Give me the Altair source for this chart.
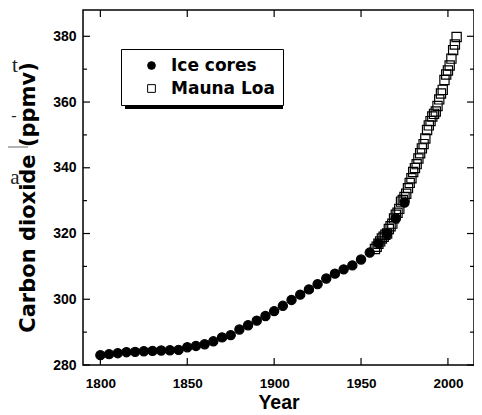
import altair as alt
import pandas as pd

# ---- data ----
ice_years = [1800, 1805, 1810, 1815, 1820, 1825, 1830, 1835, 1840, 1845,
             1850, 1855, 1860, 1865, 1870, 1875, 1880, 1885, 1890, 1895,
             1900, 1905, 1910, 1915, 1920, 1925, 1930, 1935, 1940, 1945,
             1950, 1955, 1960, 1965, 1970, 1975]
ice_co2 = [283.0, 283.3, 283.6, 283.9, 284.0, 284.2, 284.3, 284.4, 284.5, 284.6,
           285.4, 285.8, 286.3, 287.2, 288.4, 289.1, 290.8, 292.1, 293.5, 294.9,
           296.4, 298.0, 299.8, 301.4, 303.0, 304.6, 306.3, 307.8, 309.1, 310.3,
           312.1, 314.2, 317.0, 320.0, 324.6, 329.4]

ml_years = [1958, 1959, 1960, 1961, 1962, 1963, 1964, 1965, 1966, 1967,
            1968, 1969, 1970, 1971, 1972, 1973, 1974, 1975, 1976, 1977,
            1978, 1979, 1980, 1981, 1982, 1983, 1984, 1985, 1986, 1987,
            1988, 1989, 1990, 1991, 1992, 1993, 1994, 1995, 1996, 1997,
            1998, 1999, 2000, 2001, 2002, 2003, 2004, 2005]
ml_co2 = [315.3, 316.0, 316.9, 317.6, 318.5, 319.0, 319.6, 320.0, 321.4, 322.2,
          323.0, 324.6, 325.7, 326.3, 327.5, 329.7, 330.2, 331.1, 332.1, 333.8,
          335.4, 336.8, 338.7, 339.9, 341.1, 342.8, 344.4, 345.9, 347.2, 348.9,
          351.5, 352.9, 354.2, 355.6, 356.4, 357.1, 358.8, 360.8, 362.6, 363.7,
          366.7, 368.4, 369.6, 371.1, 373.2, 375.8, 377.5, 379.8]

series = ["Ice cores", "Mauna Loa"]
x_ticks = [1800, 1850, 1900, 1950, 2000]
y_major = [280, 300, 320, 340, 360, 380]
y_minor = [290, 310, 330, 350, 370]

# ---- layout ----
W, H = 391, 355
x_scale = alt.Scale(domain=[1790, 2015], nice=False, zero=False)
y_scale = alt.Scale(domain=[280, 388], nice=False, zero=False)

x_axis = alt.Axis(
    values=x_ticks, format="d", ticks=False, tickSize=0, domain=False, grid=False,
    labelFont="Liberation Sans", labelFontWeight="bold", labelFontSize=13.5,
    labelColor="black", labelPadding=11,
    title="Year", titleFont="Liberation Sans", titleFontWeight="bold",
    titleFontSize=19.5, titleColor="black", titleY=43, titleBaseline="alphabetic")
y_axis = alt.Axis(
    values=y_major, format="d", ticks=False, tickSize=0, domain=False, grid=False,
    labelFont="Liberation Sans", labelFontWeight="bold", labelFontSize=14,
    labelColor="black", labelPadding=7,
    title="Carbon dioxide (ppmv)", titleFont="DejaVu Sans", titleFontWeight="bold",
    titleFontSize=21, titleColor="black", titleAngle=270, titleAlign="center",
    titleBaseline="middle", titleX=-55, titleY=187)

xenc = alt.X("Year:Q", scale=x_scale, axis=x_axis)
yenc = alt.Y("CO2:Q", scale=y_scale, axis=y_axis)

df = pd.DataFrame({
    "Year": ice_years + ml_years,
    "CO2": ice_co2 + ml_co2,
    "Series": [series[0]] * len(ice_years) + [series[1]] * len(ml_years),
})

points = alt.Chart(df).mark_point(
    filled=True, size=85, strokeWidth=1.2, opacity=1
).encode(
    x=xenc,
    y=yenc,
    shape=alt.Shape("Series:N", scale=alt.Scale(domain=series, range=["circle", "square"]),
                    legend=alt.Legend(title=None)),
    fill=alt.Fill("Series:N", scale=alt.Scale(domain=series, range=["black", "transparent"]),
                  legend=alt.Legend(title=None)),
    stroke=alt.Stroke("Series:N", scale=alt.Scale(domain=series, range=["black", "black"]),
                      legend=alt.Legend(title=None)),
)

xt = pd.DataFrame({"Year": x_ticks})
ymaj = pd.DataFrame({"CO2": y_major})
ymin = pd.DataFrame({"CO2": y_minor})
rule = dict(color="black", strokeWidth=1.2)

ticks = [
    alt.Chart(xt).mark_rule(**rule).encode(x=xenc, y=alt.value(H), y2=alt.value(H - 7)),
    alt.Chart(xt).mark_rule(**rule).encode(x=xenc, y=alt.value(0), y2=alt.value(7)),
    alt.Chart(ymaj).mark_rule(**rule).encode(y=yenc, x=alt.value(0), x2=alt.value(7)),
    alt.Chart(ymin).mark_rule(**rule).encode(y=yenc, x=alt.value(0), x2=alt.value(4)),
    alt.Chart(ymaj).mark_rule(**rule).encode(y=yenc, x=alt.value(W), x2=alt.value(W - 7)),
    alt.Chart(ymin).mark_rule(**rule).encode(y=yenc, x=alt.value(W), x2=alt.value(W - 4)),
]

one = pd.DataFrame({"k": [0]})
shadow = alt.Chart(one).mark_rect(color="black").encode(
    x=alt.value(42), x2=alt.value(200), y=alt.value(43), y2=alt.value(99))

# fragments of neighbouring page text visible at the left edge of the picture
serif = dict(font="Liberation Serif", color="#222", align="center", baseline="alphabetic")
stray = [
    alt.Chart(one).mark_text(text="t", fontSize=21, **serif).encode(
        x=alt.value(-68), y=alt.value(62)),
    alt.Chart(one).mark_text(text="-", fontSize=16, **serif).encode(
        x=alt.value(-69), y=alt.value(111)),
    alt.Chart(one).mark_text(text="a", fontSize=21, **serif).encode(
        x=alt.value(-68), y=alt.value(174)),
    alt.Chart(one).mark_rule(color="#666", strokeWidth=1).encode(
        x=alt.value(-83), x2=alt.value(-55), y=alt.value(137)),
]

chart = alt.layer(shadow, *stray, *ticks, points).properties(
    width=W, height=H,
    autosize=alt.AutoSizeParams(type="none"),
    padding={"left": 75, "top": 2, "right": 0, "bottom": 48},
    background="white",
).configure_view(
    stroke="black", strokeWidth=1.5
).configure_legend(
    orient="none", legendX=38, legendY=39,
    strokeColor="black", fillColor="white", strokeWidth=1, padding=8,
    labelFont="DejaVu Sans", labelFontWeight="bold", labelFontSize=17, labelColor="black",
    symbolSize=60, symbolStrokeWidth=1,
    symbolOffset=14, labelOffset=11, rowPadding=5,
)

chart.save("out.html", embed_options={"renderer": "svg", "actions": False})
